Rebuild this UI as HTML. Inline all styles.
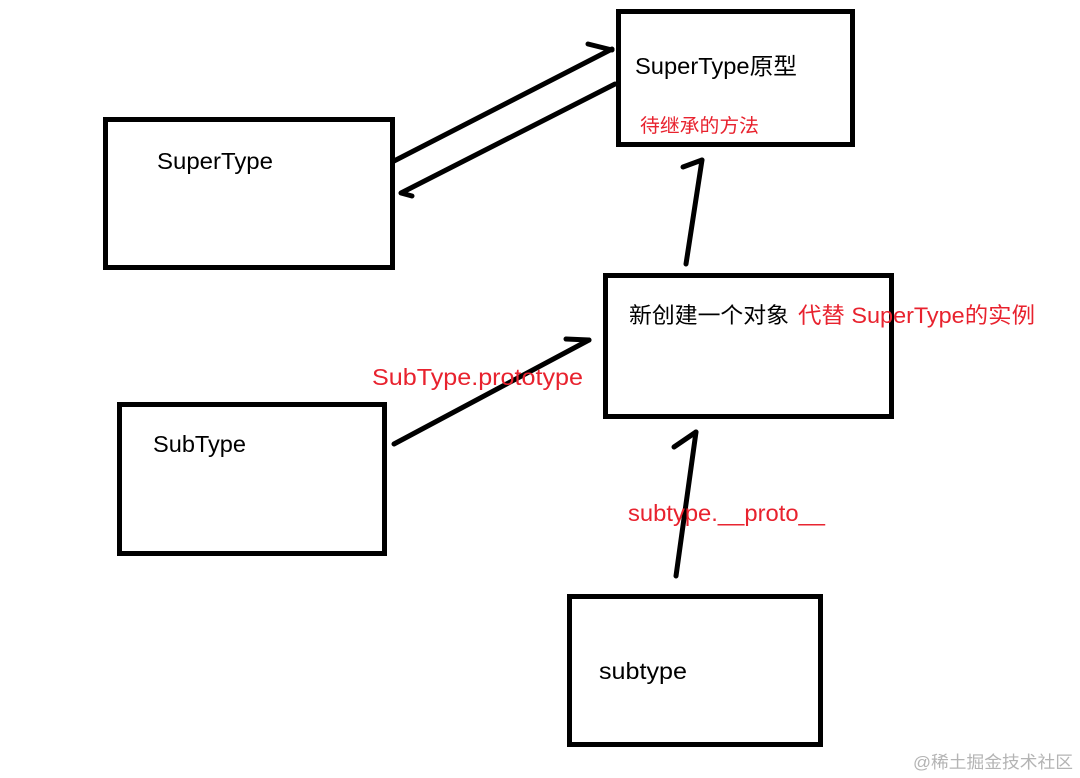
<!DOCTYPE html>
<html>
<head>
<meta charset="utf-8">
<style>
html,body{margin:0;padding:0;background:#fff;}
body{width:1080px;height:778px;overflow:hidden;}
svg{display:block;}
.t{font-family:"Liberation Sans","Noto Sans CJK SC",sans-serif;}
</style>
</head>
<body>
<svg width="1080" height="778" viewBox="0 0 1080 778" xmlns="http://www.w3.org/2000/svg">
  <rect x="0" y="0" width="1080" height="778" fill="#fff"/>
  <g fill="none" stroke="#000" stroke-width="5">
    <rect x="105.5" y="119.5" width="287" height="148"/>
    <rect x="618.5" y="11.5" width="234" height="133"/>
    <rect x="605.5" y="275.5" width="286" height="141"/>
    <rect x="119.5" y="404.5" width="265" height="149"/>
    <rect x="569.5" y="596.5" width="251" height="148"/>
  </g>
  <g fill="none" stroke="#000" stroke-width="5" stroke-linecap="round" stroke-linejoin="round">
    <!-- SuperType -> prototype -->
    <path d="M394 161 L612 49"/>
    <path d="M588 44 L612 50"/>
    <!-- prototype -> SuperType -->
    <path d="M615 84 L401 193 L412 196"/>
    <!-- middle -> prototype -->
    <path d="M686 264 L702 160"/>
    <path d="M683 167 L702 160"/>
    <!-- SubType -> middle -->
    <path d="M394 444 L589 340"/>
    <path d="M566 339 L589 340"/>
    <!-- subtype -> middle -->
    <path d="M676 576 L696 432"/>
    <path d="M674 447 L696 432"/>
  </g>
  <g class="t" fill="#000">
    <text x="157" y="169" font-size="23" textLength="116" lengthAdjust="spacingAndGlyphs">SuperType</text>
    <text x="635" y="74" font-size="23" textLength="162" lengthAdjust="spacingAndGlyphs">SuperType原型</text>
    <text x="629" y="323" font-size="22" textLength="160" lengthAdjust="spacingAndGlyphs">新创建一个对象</text>
    <text x="153" y="452" font-size="23" textLength="93" lengthAdjust="spacingAndGlyphs">SubType</text>
    <text x="599" y="679" font-size="23" textLength="88" lengthAdjust="spacingAndGlyphs">subtype</text>
  </g>
  <g class="t" fill="#e8222e">
    <text x="640" y="132" font-size="19" textLength="119" lengthAdjust="spacingAndGlyphs">待继承的方法</text>
    <text x="798" y="323" font-size="22" textLength="237" lengthAdjust="spacingAndGlyphs">代替 SuperType的实例</text>
    <text x="372" y="385" font-size="23" textLength="211" lengthAdjust="spacingAndGlyphs">SubType.prototype</text>
    <text x="628" y="521" font-size="23" textLength="197" lengthAdjust="spacingAndGlyphs">subtype.__proto__</text>
  </g>
  <text class="t" x="913" y="768" font-size="17" fill="#b4b4b4" textLength="160" lengthAdjust="spacingAndGlyphs">@稀土掘金技术社区</text>
</svg>
</body>
</html>
